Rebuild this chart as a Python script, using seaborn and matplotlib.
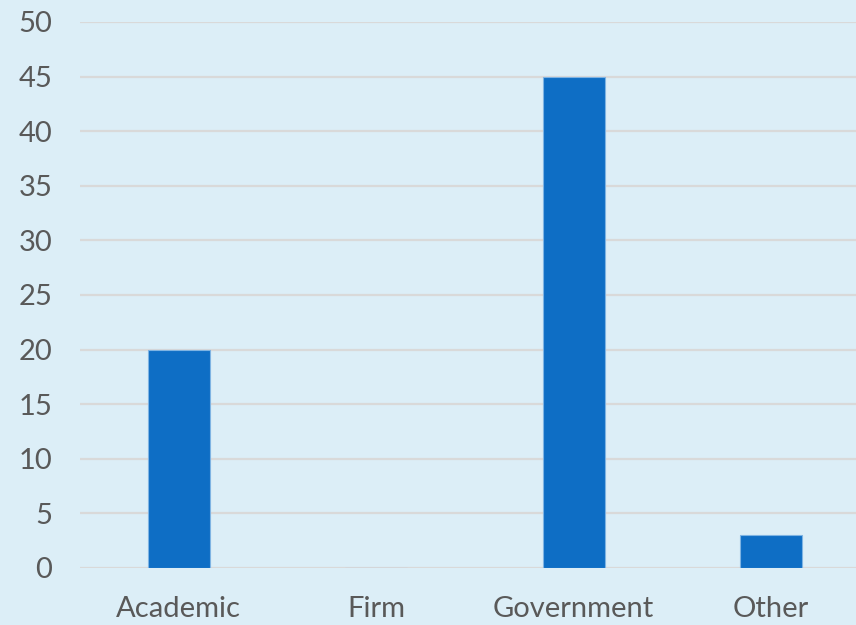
import matplotlib
matplotlib.use("Agg")
import matplotlib.pyplot as plt
import seaborn as sns
import pandas as pd

categories = ["Academic", "Firm", "Government", "Other"]
counts = [20, 0, 45, 3]
y_ticks = [0, 5, 10, 15, 20, 25, 30, 35, 40, 45, 50]

bg = "#DCEEF7"
bar_color = "#0E6EC5"
text_color = "#595959"
grid_color = "#D9D9D9"

sns.set_theme(style="white")
plt.rcParams["font.family"] = ["Lato", "DejaVu Sans"]

df = pd.DataFrame({"category": categories, "count": counts})

fig = plt.figure(figsize=(8.56, 6.25), dpi=100, facecolor=bg)
ax = fig.add_axes([80 / 856, 57 / 625, 790 / 856, 546 / 625])
ax.set_facecolor(bg)

sns.barplot(data=df, x="category", y="count", color=bar_color, width=0.314,
            saturation=1, edgecolor="#7FB4E3", linewidth=0.8, ax=ax, zorder=3)

ax.set_xlim(-0.5, 3.5)
ax.set_ylim(0, 50)
ax.set_yticks(y_ticks)
ax.yaxis.grid(True, color=grid_color, linewidth=1.6, zorder=0)
ax.set_axisbelow(True)
for s in ax.spines.values():
    s.set_visible(False)
ax.set_xlabel("")
ax.set_ylabel("")
ax.tick_params(axis="y", length=0, pad=20, labelsize=21, labelcolor=text_color)
ax.tick_params(axis="x", length=0, pad=20, labelsize=21, labelcolor=text_color)

fig.savefig("out.png", dpi=100, facecolor=bg)
